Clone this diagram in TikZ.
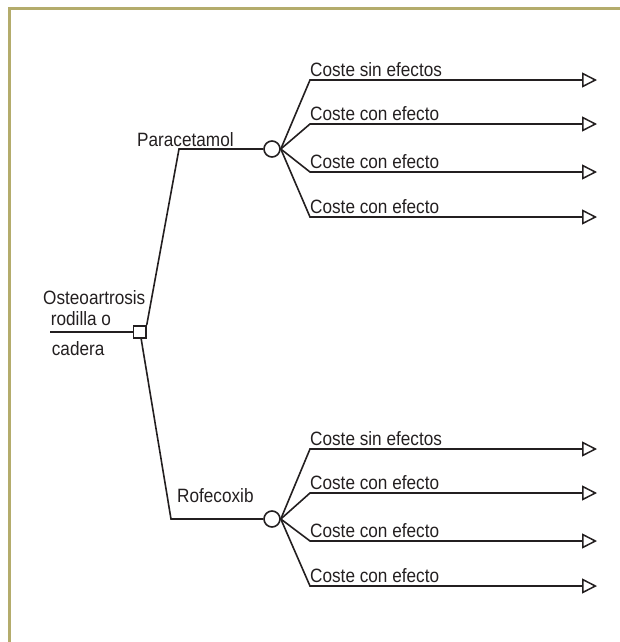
\documentclass[tikz,border=0pt]{standalone}
\usepackage{fontspec}
\setmainfont{Liberation Sans}
\newfontfamily\lblfont[FakeStretch=0.89]{Liberation Sans}
\usetikzlibrary{arrows.meta}
\definecolor{framec}{RGB}{180,172,108}
\definecolor{ink}{RGB}{35,31,32}
\begin{document}
\begin{tikzpicture}[x=1pt,y=-1pt,
  lbl/.style={anchor=base west,inner sep=0pt,text=ink,font=\lblfont\fontsize{19.3}{22}\selectfont},
  conn/.style={draw=ink,line width=1.6pt},
  leaf/.style={conn,-{Triangle[open,length=15pt,width=15pt,line width=1.5pt]}},
  decbox/.style={draw=ink,line width=1.6pt,minimum size=12.5pt,inner sep=0pt,fill=white},
  chance/.style={circle,draw=ink,line width=1.6pt,minimum size=16pt,inner sep=0pt,fill=white}]
\useasboundingbox (0,0) rectangle (620,642);
% frame
\draw[framec,line width=2.7pt,line join=miter] (9.7,642) -- (9.7,8.5) -- (620,8.5);
% nodes
\node[decbox] (sq) at (139.7,332) {};
\node[chance] (c1) at (272,149) {};
\node[chance] (c2) at (272,519) {};
\coordinate (start) at (50,332);
\coordinate (k1) at (179,149);
\coordinate (k2) at (171,519);
% upper leaves
\coordinate (u1) at (310,80);   \coordinate (ua1) at (597,80);
\coordinate (u2) at (310,124);  \coordinate (ua2) at (597,124);
\coordinate (u3) at (310,172);  \coordinate (ua3) at (597,172);
\coordinate (u4) at (310,217);  \coordinate (ua4) at (597,217);
% lower leaves
\coordinate (d1) at (310,449);  \coordinate (da1) at (597,449);
\coordinate (d2) at (310,493);  \coordinate (da2) at (597,493);
\coordinate (d3) at (310,541);  \coordinate (da3) at (597,541);
\coordinate (d4) at (310,586);  \coordinate (da4) at (597,586);
% connectors
\draw[conn] (start) -- (sq.west);
\draw[conn] (sq.north east) -- (k1) -- (c1.west);
\draw[conn] ([xshift=1.5pt]sq.south) -- (k2) -- (c2.west);
\foreach \i in {1,2,3,4}{
  \draw[leaf] (c1.east) -- (u\i) -- (ua\i);
  \draw[leaf] (c2.east) -- (d\i) -- (da\i);
}
% labels
\node[lbl] (t1) at (43,304.3) {Osteoartrosis};
\node[lbl] (t2) at (50.7,325) {rodilla o};
\node[lbl] (t3) at (51.7,355) {cadera};
\node[lbl] (tp) at (137,146) {Paracetamol};
\node[lbl] (tr) at (177,502.7) {Rofecoxib};
\node[lbl] (lu1) at (310,76.3) {Coste sin efectos};
\node[lbl] (lu2) at (310,120.3) {Coste con efecto};
\node[lbl] (lu3) at (310,168.3) {Coste con efecto};
\node[lbl] (lu4) at (310,213.3) {Coste con efecto};
\node[lbl] (ld1) at (310,445.3) {Coste sin efectos};
\node[lbl] (ld2) at (310,489.3) {Coste con efecto};
\node[lbl] (ld3) at (310,537.3) {Coste con efecto};
\node[lbl] (ld4) at (310,582.3) {Coste con efecto};
\end{tikzpicture}
\end{document}
